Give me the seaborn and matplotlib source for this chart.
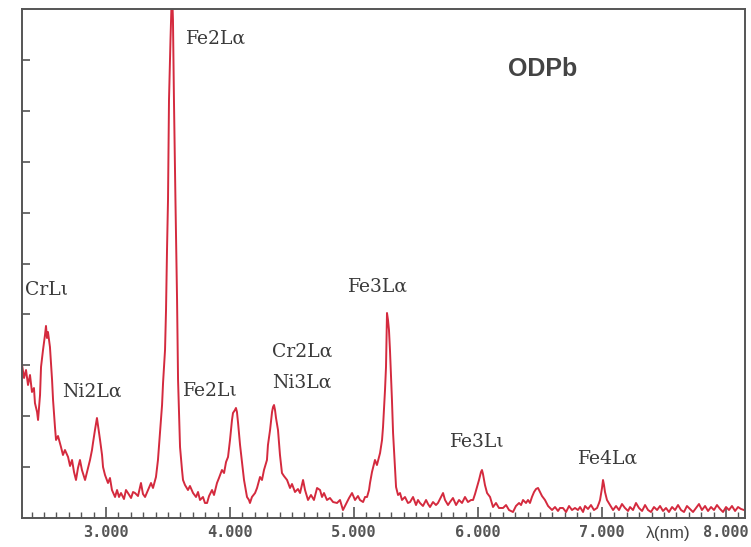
import matplotlib
matplotlib.use("Agg")
import matplotlib.pyplot as plt
from matplotlib.ticker import MultipleLocator, FixedLocator, NullFormatter
import seaborn as sns
import pandas as pd

# Soft X-ray emission spectrum of the ODPb sample
wavelength_nm = [
    2.323, 2.339, 2.355, 2.371, 2.387, 2.403, 2.419, 2.427, 2.444, 2.452,
    2.468, 2.476, 2.492, 2.508, 2.516, 2.524, 2.532, 2.548, 2.565, 2.573,
    2.589, 2.597, 2.613, 2.637, 2.653, 2.669, 2.694, 2.710, 2.726, 2.742,
    2.758, 2.774, 2.790, 2.806, 2.831, 2.847, 2.871, 2.887, 2.895, 2.911,
    2.927, 2.935, 2.952, 2.968, 2.976, 2.992, 3.016, 3.032, 3.048, 3.073,
    3.089, 3.105, 3.121, 3.145, 3.161, 3.177, 3.202, 3.218, 3.234, 3.258,
    3.282, 3.298, 3.315, 3.339, 3.363, 3.379, 3.403, 3.419, 3.435, 3.452,
    3.460, 3.476, 3.484, 3.492, 3.500, 3.508, 3.520, 3.532, 3.540, 3.548,
    3.560, 3.573, 3.581, 3.597, 3.613, 3.621, 3.637, 3.661, 3.677, 3.702,
    3.726, 3.742, 3.758, 3.782, 3.798, 3.815, 3.831, 3.855, 3.871, 3.895,
    3.911, 3.935, 3.952, 3.968, 3.984, 4.000, 4.016, 4.024, 4.040, 4.048,
    4.056, 4.065, 4.081, 4.097, 4.113, 4.137, 4.153, 4.161, 4.177, 4.202,
    4.218, 4.242, 4.258, 4.274, 4.298, 4.306, 4.323, 4.339, 4.347, 4.355,
    4.363, 4.371, 4.387, 4.403, 4.419, 4.435, 4.460, 4.484, 4.500, 4.524,
    4.548, 4.565, 4.589, 4.605, 4.629, 4.653, 4.677, 4.702, 4.726, 4.742,
    4.758, 4.782, 4.806, 4.831, 4.863, 4.887, 4.911, 4.935, 4.960, 4.984,
    5.008, 5.032, 5.048, 5.073, 5.089, 5.105, 5.121, 5.129, 5.145, 5.169,
    5.185, 5.210, 5.226, 5.234, 5.250, 5.258, 5.266, 5.274, 5.282, 5.290,
    5.306, 5.315, 5.331, 5.339, 5.355, 5.371, 5.387, 5.411, 5.435, 5.452,
    5.476, 5.500, 5.516, 5.532, 5.556, 5.581, 5.597, 5.613, 5.637, 5.661,
    5.677, 5.702, 5.718, 5.734, 5.758, 5.774, 5.798, 5.823, 5.847, 5.871,
    5.895, 5.919, 5.944, 5.960, 5.976, 5.992, 6.008, 6.024, 6.032, 6.040,
    6.056, 6.073, 6.097, 6.121, 6.145, 6.169, 6.202, 6.226, 6.250, 6.282,
    6.306, 6.331, 6.347, 6.363, 6.387, 6.403, 6.419, 6.435, 6.452, 6.468,
    6.484, 6.500, 6.516, 6.540, 6.565, 6.581, 6.597, 6.621, 6.645, 6.661,
    6.685, 6.710, 6.734, 6.758, 6.782, 6.806, 6.823, 6.847, 6.863, 6.887,
    6.911, 6.935, 6.960, 6.976, 6.984, 7.000, 7.008, 7.016, 7.024, 7.040,
    7.065, 7.089, 7.113, 7.137, 7.161, 7.185, 7.210, 7.226, 7.250, 7.274,
    7.298, 7.323, 7.347, 7.371, 7.395, 7.419, 7.444, 7.468, 7.492, 7.516,
    7.540, 7.565, 7.589, 7.613, 7.637, 7.661, 7.685, 7.710, 7.734, 7.758,
    7.782, 7.806, 7.831, 7.855, 7.879, 7.903, 7.927, 7.952, 7.976, 8.000,
    8.024, 8.048, 8.073, 8.097, 8.121, 8.145,
]

intensity = [
    3.006, 2.751, 2.908, 2.613, 2.810, 2.476, 2.554, 2.259, 2.083, 1.926,
    2.417, 2.967, 3.301, 3.596, 3.773, 3.537, 3.655, 3.360, 2.712, 2.319,
    1.769, 1.533, 1.611, 1.395, 1.238, 1.336, 1.199, 1.022, 1.140, 0.904,
    0.747, 0.983, 1.140, 0.943, 0.747, 0.904, 1.140, 1.336, 1.474, 1.729,
    1.965, 1.827, 1.533, 1.238, 1.002, 0.845, 0.688, 0.786, 0.550, 0.413,
    0.550, 0.413, 0.491, 0.373, 0.550, 0.491, 0.393, 0.511, 0.491, 0.432,
    0.688, 0.472, 0.413, 0.550, 0.688, 0.590, 0.806, 1.140, 1.670, 2.220,
    2.653, 3.301, 4.087, 5.266, 6.248, 8.214, 9.393, 10.400, 9.786, 8.214,
    6.248, 4.284, 2.712, 1.395, 0.943, 0.747, 0.648, 0.550, 0.629, 0.491,
    0.413, 0.511, 0.354, 0.413, 0.295, 0.295, 0.432, 0.550, 0.452, 0.688,
    0.786, 0.943, 0.884, 1.100, 1.199, 1.533, 1.926, 2.063, 2.122, 2.162,
    2.083, 1.867, 1.434, 1.081, 0.747, 0.413, 0.354, 0.295, 0.413, 0.491,
    0.590, 0.806, 0.747, 0.943, 1.140, 1.434, 1.729, 2.083, 2.181, 2.220,
    2.122, 1.965, 1.729, 1.238, 0.884, 0.825, 0.747, 0.590, 0.668, 0.511,
    0.570, 0.491, 0.747, 0.550, 0.354, 0.452, 0.354, 0.590, 0.550, 0.413,
    0.491, 0.354, 0.393, 0.314, 0.295, 0.354, 0.157, 0.275, 0.393, 0.491,
    0.354, 0.432, 0.354, 0.314, 0.413, 0.413, 0.550, 0.688, 0.904, 1.140,
    1.041, 1.277, 1.533, 1.788, 2.515, 2.967, 4.028, 3.891, 3.694, 3.301,
    2.319, 1.670, 0.943, 0.609, 0.452, 0.491, 0.354, 0.413, 0.295, 0.314,
    0.413, 0.255, 0.354, 0.295, 0.236, 0.354, 0.275, 0.216, 0.314, 0.255,
    0.295, 0.413, 0.491, 0.354, 0.255, 0.314, 0.393, 0.255, 0.354, 0.295,
    0.413, 0.314, 0.354, 0.354, 0.472, 0.609, 0.747, 0.904, 0.943, 0.865,
    0.648, 0.491, 0.413, 0.216, 0.295, 0.197, 0.197, 0.255, 0.157, 0.118,
    0.236, 0.295, 0.255, 0.354, 0.295, 0.354, 0.295, 0.413, 0.511, 0.570,
    0.590, 0.511, 0.432, 0.354, 0.236, 0.197, 0.157, 0.216, 0.138, 0.197,
    0.197, 0.118, 0.236, 0.157, 0.197, 0.157, 0.216, 0.118, 0.236, 0.177,
    0.255, 0.157, 0.197, 0.295, 0.354, 0.590, 0.747, 0.648, 0.511, 0.354,
    0.255, 0.157, 0.236, 0.157, 0.275, 0.197, 0.138, 0.216, 0.157, 0.295,
    0.197, 0.138, 0.255, 0.157, 0.118, 0.216, 0.157, 0.236, 0.138, 0.197,
    0.118, 0.216, 0.157, 0.255, 0.157, 0.118, 0.236, 0.177, 0.118, 0.197,
    0.275, 0.157, 0.236, 0.138, 0.216, 0.157, 0.255, 0.177, 0.118, 0.216,
    0.157, 0.236, 0.138, 0.216, 0.177, 0.157,
]

major_ticks = [3.0, 4.0, 5.0, 6.0, 7.0, 8.0]
major_labels = ["3.000", "4.000", "5.000", "6.000", "7.000", "8.000"]

line_labels = ["Fe2Lα", "CrLι", "Ni2Lα", "Fe2Lι", "Cr2Lα", "Ni3Lα",
               "Fe3Lα", "Fe3Lι", "Fe4Lα"]
label_x = [3.645, 2.347, 2.645, 3.621, 4.339, 4.339, 4.952, 5.774, 6.806]
label_y = [9.41, 4.48, 2.475, 2.495, 3.26, 2.67, 4.54, 1.49, 1.16]

sns.set_theme(style="white")
plt.rcParams["font.family"] = ["DejaVu Sans"]

df = pd.DataFrame({"wavelength": wavelength_nm, "intensity": intensity})

fig = plt.figure(figsize=(7.51, 5.47), dpi=100)
ax = fig.add_axes([0.0293, 0.053, 0.9627, 0.9305])

sns.lineplot(data=df, x="wavelength", y="intensity", ax=ax,
             estimator=None, sort=False, color="#d42a3e", linewidth=1.4)

ax.set_xlim(2.3226, 8.153)
ax.set_ylim(0, 10)
ax.set_xlabel("")
ax.set_ylabel("")

for side in ["left", "right", "top", "bottom"]:
    ax.spines[side].set_visible(True)
    ax.spines[side].set_color("#555555")
    ax.spines[side].set_linewidth(1.4)

ax.xaxis.set_major_locator(FixedLocator(major_ticks))
ax.set_xticklabels(major_labels, family="DejaVu Sans Mono",
                   fontweight="bold", fontsize=11, color="#555555")
ax.xaxis.set_minor_locator(MultipleLocator(0.1))
ax.yaxis.set_major_locator(FixedLocator(list(range(1, 10))))
ax.yaxis.set_major_formatter(NullFormatter())

ax.tick_params(axis="x", which="major", direction="in", length=8,
               width=1.2, color="#555555", pad=5, bottom=True)
ax.tick_params(axis="x", which="minor", direction="in", length=4.5,
               width=1.0, color="#555555", bottom=True)
ax.tick_params(axis="y", which="major", direction="in", length=6,
               width=1.2, color="#555555", left=True)

ax.text(7.35, -0.0295, "λ(nm)", transform=ax.get_xaxis_transform(),
        ha="left", va="center", fontsize=12.5, color="#444444",
        family="Liberation Sans")

for txt, lx, ly in zip(line_labels, label_x, label_y):
    ax.text(lx, ly, txt, ha="left", va="center", fontsize=13.5,
            family="DejaVu Serif", color="#3a3a3a")

ax.text(6.242, 8.82, "ODPb", ha="left", va="center", fontsize=18,
        fontweight="bold", family="Liberation Sans", color="#444444")

fig.savefig("out.png", dpi=100)
